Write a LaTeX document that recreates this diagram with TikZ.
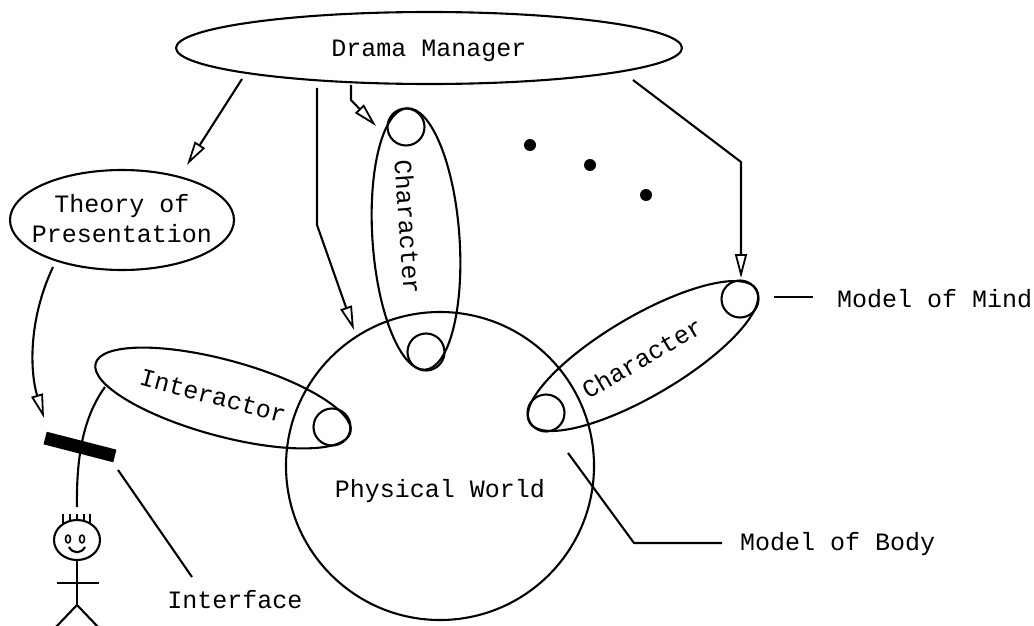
\documentclass[tikz,border=0pt]{standalone}
\usepackage{fontspec}
\newfontfamily\cour{Liberation Mono}
\usetikzlibrary{shapes.geometric,arrows.meta}
\begin{document}
\begin{tikzpicture}[x=1pt,y=-1pt,
  every node/.style={font={\cour\fontsize{25}{30}\selectfont}},
  ln/.style={line width=2.1pt},
  arr/.style={ln,-{Triangle[open,length=24pt,width=12pt,line width=1.8pt]}},
  oval/.style={ellipse,draw,ln,inner sep=0pt},
  ring/.style={circle,draw,ln,minimum size=37pt,inner sep=0pt},
  lbl/.style={inner sep=0pt},
  dot/.style={circle,fill=black,minimum size=12pt,inner sep=0pt},
  line join=round]
\useasboundingbox (0,0) rectangle (1034,626);

% main shapes
\node[oval,minimum width=506pt,minimum height=72pt] (dm) at (429,48) {};
\node[lbl,anchor=base] (dmt) at (429,57) {Drama Manager};

\node[oval,minimum width=224pt,minimum height=100pt] (top) at (122,220) {};
\node[lbl,align=center] (topt) at (122,219) {Theory of\\Presentation};

\node[circle,draw,ln,minimum size=308pt,inner sep=0pt] (pw) at (440,466) {};
\node[lbl,anchor=base] (pwt) at (440,497) {Physical World};

% vertical character
\node[oval,minimum width=262pt,minimum height=87pt,rotate=-86] (c1) at (416,239) {};
\node[lbl,rotate=-86] (c1t) at (408,227) {Character};
\node[ring] (c1a) at (406,127) {};
\node[ring] (c1b) at (426,352) {};

% right character
\node[oval,minimum width=263pt,minimum height=80pt,rotate=30.4] (c2) at (643,356) {};
\node[lbl,rotate=30.5] (c2t) at (642,358) {Character};
\node[ring] (c2a) at (546,413) {};
\node[ring] (c2b) at (740,299) {};

% interactor
\node[oval,minimum width=264pt,minimum height=76pt,rotate=-15.2] (ia) at (223,398) {};
\node[lbl,rotate=-15] (iat) at (213,396) {Interactor};
\node[ring] (iaa) at (332,427) {};

% interface bar
\node[fill=black,minimum width=72pt,minimum height=13pt,inner sep=0pt,rotate=-14.4] (bar) at (80,447) {};

% dots
\node[dot] (d1) at (530,145) {};
\node[dot] (d2) at (590,165) {};
\node[dot] (d3) at (646,195) {};

% arrows from drama manager
\coordinate (a1s) at (242,79);  \coordinate (a1e) at (187,165);
\coordinate (a2s) at (317,88);  \coordinate (a2e) at (354,330);
\coordinate (a3s) at (351,85);  \coordinate (a3e) at (376,126);
\coordinate (a4s) at (633,80);  \coordinate (a4e) at (741,278);
\draw[arr] (a1s) -- (a1e);
\draw[arr] (a2s) -- ++(0,137) -- (a2e);
\draw[arr] (a3s) -- ++(0,15) -- (a3e);
\draw[arr] (a4s) -- ++(108,82) -- (a4e);

% theory -> interface
\coordinate (tps) at (53,267); \coordinate (bart) at (44,418);
\draw[arr] (tps) .. controls (28,320) and (30,372) .. (bart);

% interactor -> person
\coordinate (ias) at (105,387); \coordinate (hd) at (77,507);
\draw[ln] (ias) .. controls (86,413) and (76,450) .. (hd);

% stick figure
\node[ellipse,draw,ln,minimum width=46pt,minimum height=40pt,inner sep=0pt] (head) at (77,540) {};
\foreach \x/\y in {63/524,70/521,77/520,84/521,90/523.5}
  \draw[line width=1.7pt] (\x,514) -- (\x,\y);
\draw[line width=1.6pt] (68,539) ellipse [x radius=2.5pt, y radius=4pt];
\draw[line width=1.6pt] (82,539) ellipse [x radius=2.5pt, y radius=4pt];
\draw[ln] (69,547) .. controls (73,554) and (81,554) .. (85,547);
\coordinate (hip) at (77,605);
\draw[ln] (head.south) -- (hip);
\coordinate (armL) at (57,583); \coordinate (armR) at (99,583);
\draw[ln] (armL) -- (armR);
\coordinate (legL) at (55,628); \coordinate (legR) at (99,628);
\draw[ln] (legL) -- (hip) -- (legR);

% labels with leader lines
\coordinate (ifs) at (118,470); \coordinate (ife) at (192,577);
\draw[ln] (ifs) -- (ife);
\node[lbl,anchor=base] (ift) at (235,608) {Interface};

\coordinate (mbs) at (568,453); \coordinate (mbe) at (722,543);
\draw[ln] (mbs) -- (634,543) -- (mbe);
\node[lbl,anchor=base west] (mbt) at (740,550) {Model of Body};

\coordinate (mms) at (774,297); \coordinate (mme) at (813,297);
\draw[ln] (mms) -- (mme);
\node[lbl,anchor=base west] (mmt) at (837,307) {Model of Mind};
\end{tikzpicture}
\end{document}
